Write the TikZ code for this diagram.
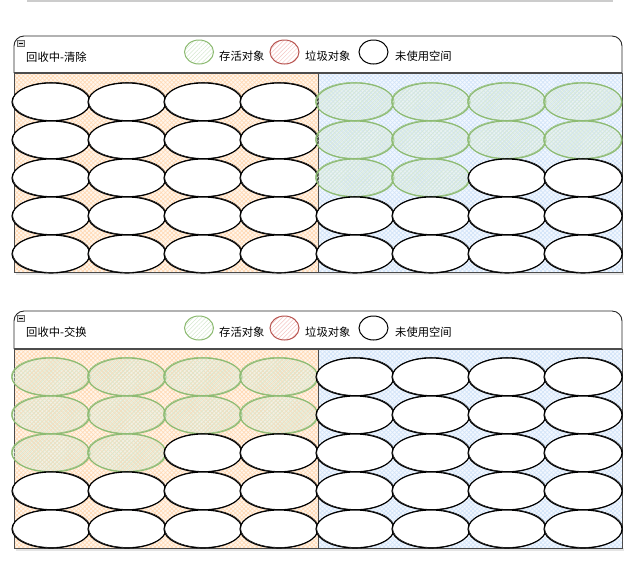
\documentclass[tikz,border=0pt]{standalone}
\usepackage{fontspec}
\newfontfamily\cjk{Noto Sans CJK SC}
\usetikzlibrary{patterns.meta,shapes.geometric}
\definecolor{orgbg}{HTML}{FFF6EC}
\definecolor{orgline}{HTML}{FFDAB5}
\definecolor{blubg}{HTML}{F3F8FF}
\definecolor{bluline}{HTML}{D3E5F9}
\definecolor{livedraw}{HTML}{8DBB72}
\definecolor{livefill}{HTML}{D5E8D4}
\definecolor{liveline}{HTML}{D6E9D0}
\definecolor{deaddraw}{HTML}{B85450}
\definecolor{deadline}{HTML}{F5C4C2}
\tikzset{
  cellbase/.style={ellipse, minimum width=78, minimum height=38, inner sep=0, line width=1.1},
  freecell/.style={cellbase, draw=black, fill=white,
     postaction={draw, line width=0.5, transform canvas={xshift=0.7pt, yshift=0.6pt}}},
  livecell/.style={cellbase, draw=livedraw,
     preaction={fill=livefill, fill opacity=0.3},
     pattern={Lines[angle=45,distance=2.8pt,line width=0.45pt]}, pattern color=liveline,
     postaction={draw, line width=0.5, transform canvas={xshift=-0.7pt, yshift=0.7pt}}},
  legendc/.style={ellipse, minimum width=29, minimum height=24, inner sep=0, line width=1},
  cjktext/.style={font=\cjk\fontsize{11.3}{13}\selectfont, inner sep=0, anchor=west},
  frameline/.style={draw=black!85, line width=0.9},
}
\newcommand{\hatchfill}[4]{%
  \fill[#1] #3;
  \fill[pattern={Lines[angle=45,distance=3pt,line width=0.7pt]}, pattern color=#2] #3;
  \fill[pattern={Lines[angle=-45,distance=3pt,line width=0.7pt]}, pattern color=#2] #3;
}
\begin{document}
\begin{tikzpicture}[x=1pt,y=-1pt]
\useasboundingbox (0,0) rectangle (639,566);
% top separator line
\draw[black!20, line width=1.6] (27,1) -- (613,1);

% ============ container 1 ============
\fill[black!10] (16,272) rectangle (624,275);
\fill[white, rounded corners=10] (14,73) -- (14,36) -- (622,36) -- (622,73) -- cycle;
\hatchfill{orgbg}{orgline}{(14,73) rectangle (318,272)}{}
\hatchfill{blubg}{bluline}{(318,73) rectangle (622,272)}{}
\draw[frameline, rounded corners=10] (14,73) -- (14,36) -- (622,36) -- (622,73);
\draw[black!70, line width=1] (14,73) rectangle (622,272);
\draw[black!70, line width=1] (318,73) -- (318,272);
\draw[black!70, line width=1.6] (14,73) -- (622,73);
\draw[black!60, fill=black!12, line width=0.5] (17,40) rectangle (24,46);
\draw[black, line width=0.8] (18.5,43) -- (22.5,43);
\node[cjktext] (t1) at (26,57) {回收中-清除};
\node[legendc, draw=livedraw, pattern={Lines[angle=45,distance=3pt,line width=0.5pt]}, pattern color=liveline] (la1) at (199,52) {};
\node[cjktext] (lt1) at (219,56) {存活对象};
\node[legendc, draw=deaddraw, pattern={Lines[angle=45,distance=3pt,line width=0.5pt]}, pattern color=deadline] (lb1) at (284.5,52) {};
\node[cjktext] (lt2) at (305,56) {垃圾对象};
\node[legendc, draw=black, fill=white] (lc1) at (373.5,52) {};
\node[cjktext] (lt3) at (395,56) {未使用空间};
% cells
\foreach \r in {0,...,4} \foreach \c in {0,...,3}
  \node[freecell] (A-\r-\c) at ({51+76*\c},{102+38*\r}) {};
\foreach \r in {0,1} \foreach \c in {4,...,7}
  \node[livecell] (A-\r-\c) at ({51+76*\c},{102+38*\r}) {};
\foreach \c in {4,5}
  \node[livecell] (A-2-\c) at ({51+76*\c},178) {};
\foreach \c in {6,7}
  \node[freecell] (A-2-\c) at ({51+76*\c},178) {};
\foreach \r in {3,4} \foreach \c in {4,...,7}
  \node[freecell] (A-\r-\c) at ({51+76*\c},{102+38*\r}) {};

% ============ container 2 ============
\fill[black!10] (16,548) rectangle (624,551);
\fill[white, rounded corners=10] (14,349) -- (14,311) -- (622,311) -- (622,349) -- cycle;
\hatchfill{orgbg}{orgline}{(14,349) rectangle (318,548)}{}
\hatchfill{blubg}{bluline}{(318,349) rectangle (622,548)}{}
\draw[frameline, rounded corners=10] (14,349) -- (14,311) -- (622,311) -- (622,349);
\draw[black!70, line width=1] (14,349) rectangle (622,548);
\draw[black!70, line width=1] (318,349) -- (318,548);
\draw[black!70, line width=1.6] (14,349) -- (622,349);
\draw[black!60, fill=black!12, line width=0.5] (17,315) rectangle (24,321);
\draw[black, line width=0.8] (18.5,318) -- (22.5,318);
\node[cjktext] (t2) at (26,332) {回收中-交换};
\node[legendc, draw=livedraw, pattern={Lines[angle=45,distance=3pt,line width=0.5pt]}, pattern color=liveline] (la2) at (199,328) {};
\node[cjktext] (lt4) at (219,332) {存活对象};
\node[legendc, draw=deaddraw, pattern={Lines[angle=45,distance=3pt,line width=0.5pt]}, pattern color=deadline] (lb2) at (284.5,328) {};
\node[cjktext] (lt5) at (305,332) {垃圾对象};
\node[legendc, draw=black, fill=white] (lc2) at (373.5,328) {};
\node[cjktext] (lt6) at (395,332) {未使用空间};
% cells
\foreach \r in {0,1} \foreach \c in {0,...,3}
  \node[livecell] (B-\r-\c) at ({51+76*\c},{377+38*\r}) {};
\foreach \c in {0,1}
  \node[livecell] (B-2-\c) at ({51+76*\c},453) {};
\foreach \c in {2,3}
  \node[freecell] (B-2-\c) at ({51+76*\c},453) {};
\foreach \r in {3,4} \foreach \c in {0,...,3}
  \node[freecell] (B-\r-\c) at ({51+76*\c},{377+38*\r}) {};
\foreach \r in {0,...,4} \foreach \c in {4,...,7}
  \node[freecell] (B-\r-\c) at ({51+76*\c},{377+38*\r}) {};
\end{tikzpicture}
\end{document}
